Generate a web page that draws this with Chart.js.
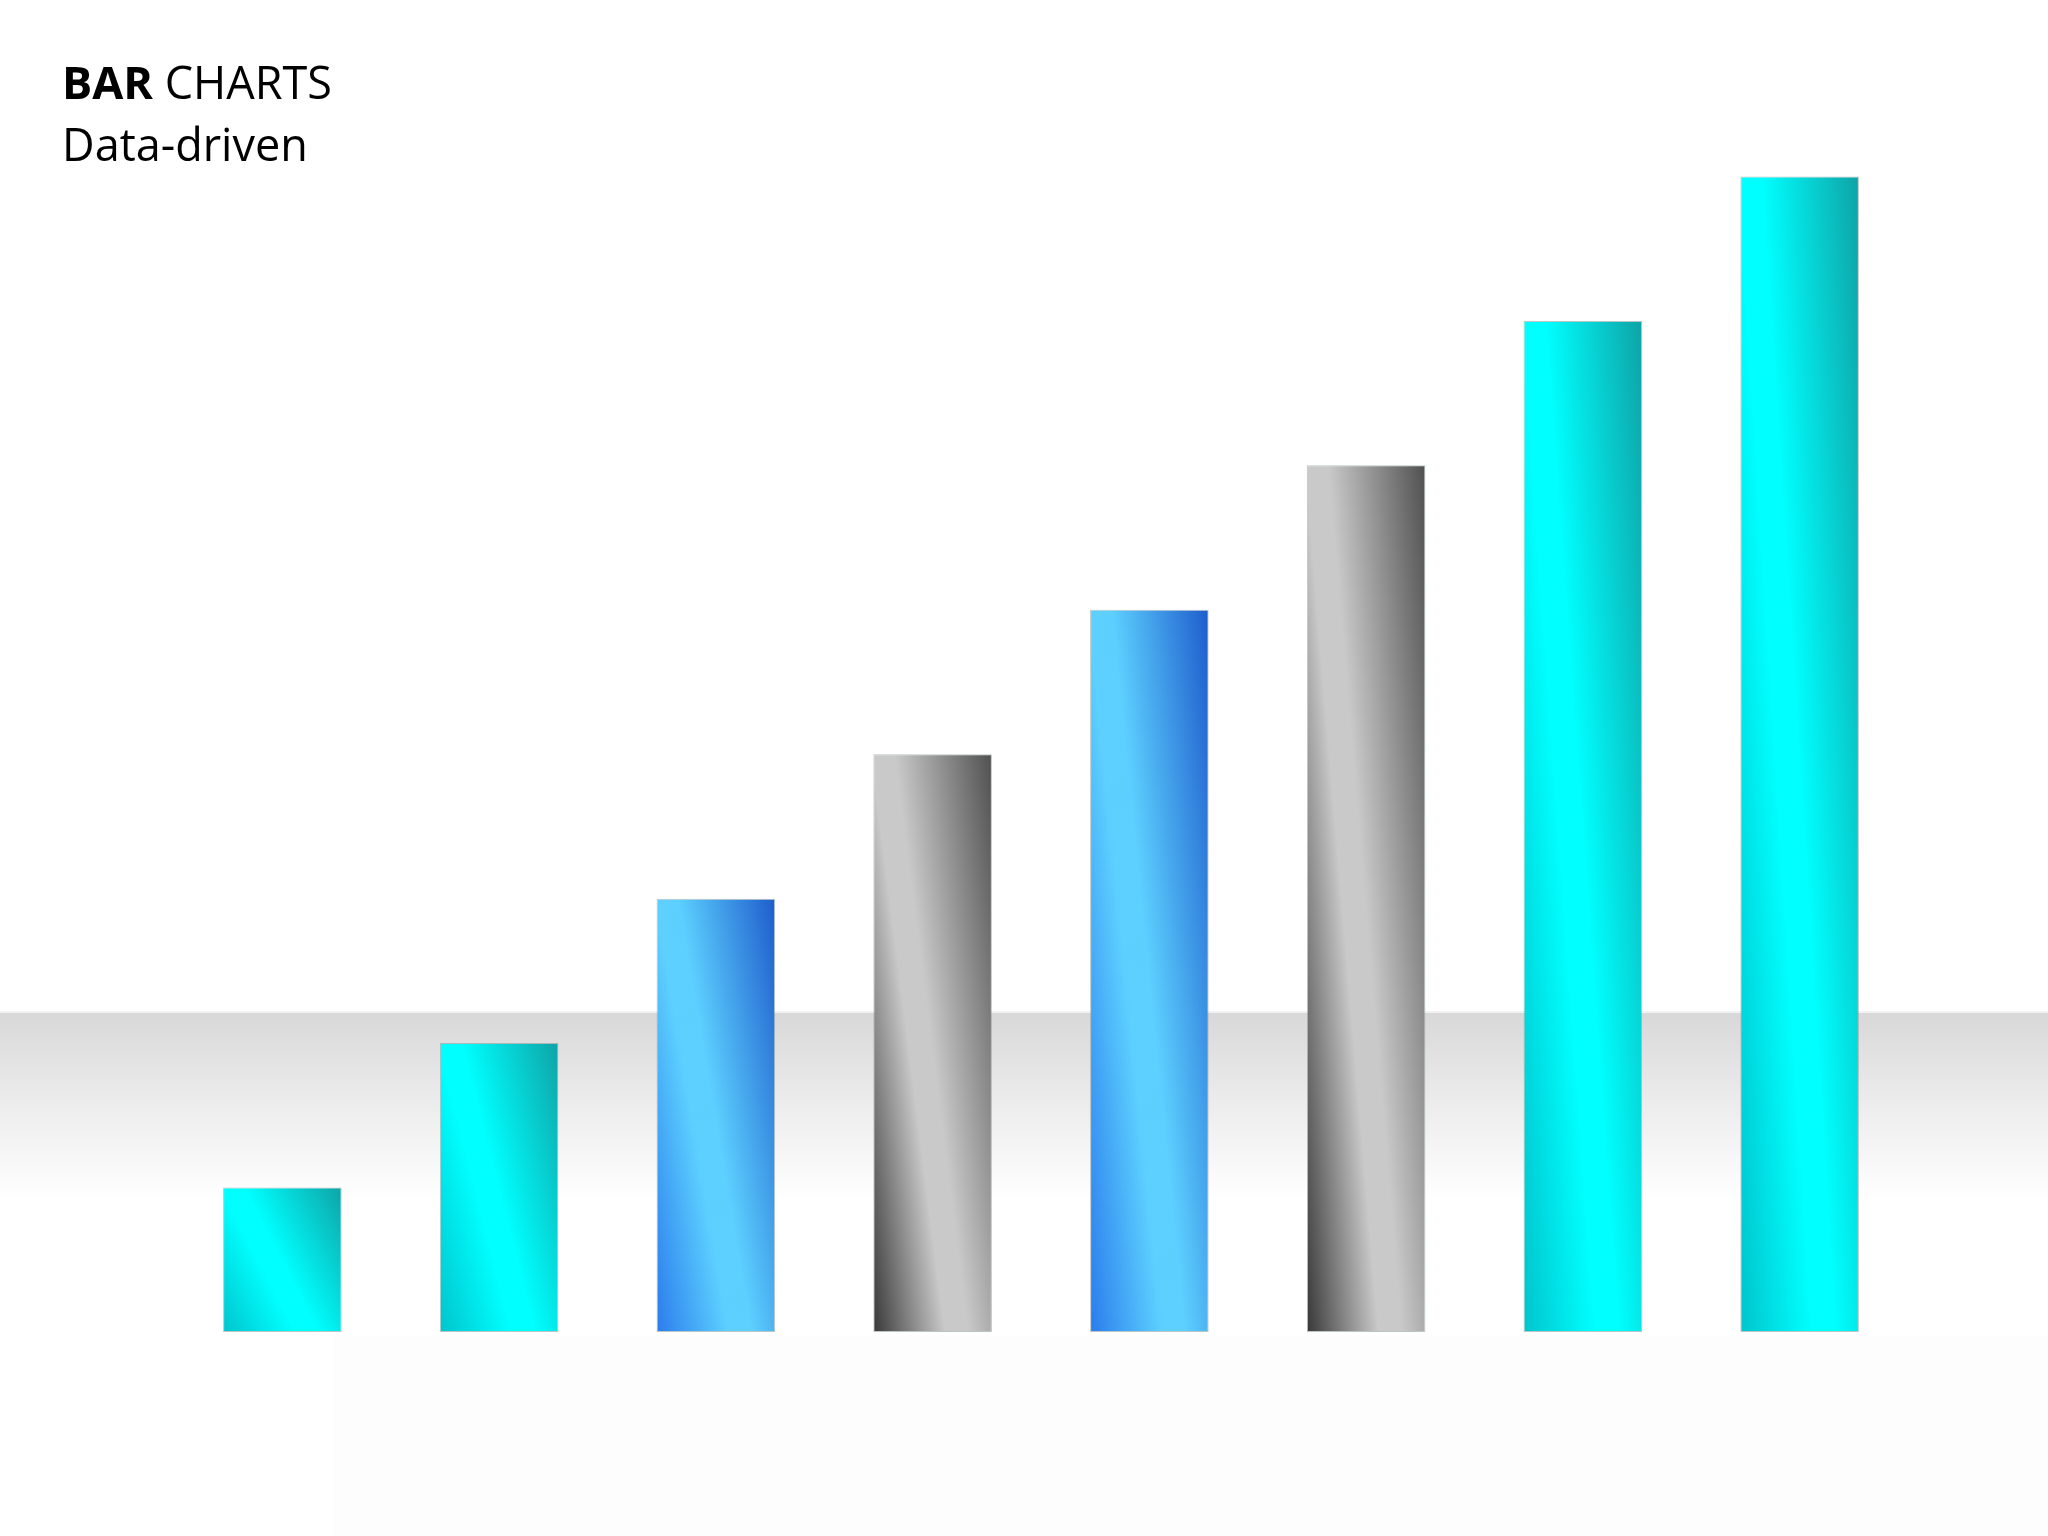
<!DOCTYPE html>
<html>
<head>
<meta charset="utf-8">
<script src="https://cdn.jsdelivr.net/npm/chart.js@4"></script>
<style>
  body { margin: 0; background: #fff; }
  #wrap { position: relative; width: 2048px; height: 1536px; }
  #barChart { position: absolute; left: 0; top: 0; }
  .title { position: absolute; left: 62px; font-family: "Open Sans", Lato, sans-serif; font-size: 45px; color: #000; line-height: 1; }
</style>
</head>
<body>
<div id="wrap">
  <canvas id="barChart" width="2048" height="1536"></canvas>
  <div class="title" style="top:59px"><b>BAR</b> CHARTS</div>
  <div class="title" style="top:121px">Data-driven</div>
</div>
<script>
const categories = ["1", "2", "3", "4", "5", "6", "7", "8"];
const values = [1, 2, 3, 4, 5, 6, 7, 8];
const barStyles = ["cyan", "cyan", "blue", "gray", "blue", "gray", "cyan", "cyan"];

// left/bottom colour, highlight, right/top colour
const palettes = {
  cyan: ["#00c4cc", "#00ffff", "#0ea3a6"],
  blue: ["#2a7cec", "#5dd0ff", "#1e5ccc"],
  gray: ["#383838", "#c9c9c9", "#505050"],
};

function barGradient(context) {
  const chart = context.chart;
  if (!chart.chartArea) return "#00e0e8";
  const i = context.dataIndex;
  const xs = chart.scales.x, ys = chart.scales.y;
  const w = xs.getPixelForValue(1) - xs.getPixelForValue(0);
  const bw = w * 0.547;
  const xl = xs.getPixelForValue(i) - bw / 2;
  const top = ys.getPixelForValue(values[i]);
  const bottom = ys.getPixelForValue(0);
  const h = bottom - top;
  // streak runs from near top-left to near bottom-right
  const sx0 = xl + 0.18 * bw, sx1 = xl + 0.8 * bw;
  let nx = h, ny = -(sx1 - sx0);
  const len = Math.hypot(nx, ny);
  nx /= len; ny /= len;
  const cx = (sx0 + sx1) / 2, cy = (top + bottom) / 2;
  const corners = [[xl, top], [xl + bw, top], [xl, bottom], [xl + bw, bottom]];
  const proj = corners.map(([px, py]) => (px - cx) * nx + (py - cy) * ny);
  const mn = Math.min(...proj), mx = Math.max(...proj);
  const g = chart.ctx.createLinearGradient(cx + nx * mn, cy + ny * mn, cx + nx * mx, cy + ny * mx);
  const t0 = -mn / (mx - mn);
  const p = palettes[barStyles[i]];
  g.addColorStop(0, p[0]);
  g.addColorStop(Math.max(0, t0 - 0.12), p[1]);
  g.addColorStop(t0, p[1]);
  g.addColorStop(1, p[2]);
  return g;
}

const floorPlugin = {
  id: "floor",
  beforeDraw(chart) {
    const ctx = chart.ctx;
    ctx.save();
    ctx.fillStyle = "#ffffff";
    ctx.fillRect(0, 0, chart.width, chart.height);
    const g = ctx.createLinearGradient(0, 1013, 0, 1200);
    g.addColorStop(0, "#d8d8d8");
    g.addColorStop(0.45, "#ebebeb");
    g.addColorStop(0.8, "#f8f8f8");
    g.addColorStop(1, "#ffffff");
    ctx.fillStyle = "#f2f2f2";
    ctx.fillRect(0, 1011, chart.width, 2);
    ctx.fillStyle = g;
    ctx.fillRect(0, 1013, chart.width, 190);
    ctx.fillStyle = "#fdfdfd";
    ctx.fillRect(333, 1336, chart.width - 333, chart.height - 1336);
    ctx.restore();
  },
};

new Chart(document.getElementById("barChart"), {
  type: "bar",
  data: {
    labels: categories,
    datasets: [
      {
        data: values,
        backgroundColor: barGradient,
        borderColor: "rgba(130,150,150,0.55)",
        borderWidth: 1,
        borderSkipped: false,
        categoryPercentage: 1,
        barPercentage: 0.547,
      },
    ],
  },
  options: {
    responsive: false,
    animation: false,
    layout: { padding: { left: 174, right: 140, top: 32, bottom: 204 } },
    scales: {
      x: { display: false },
      y: { display: false, min: 0, max: 9 },
    },
    plugins: {
      legend: { display: false },
      tooltip: { enabled: false },
    },
  },
  plugins: [floorPlugin],
});
</script>
</body>
</html>
